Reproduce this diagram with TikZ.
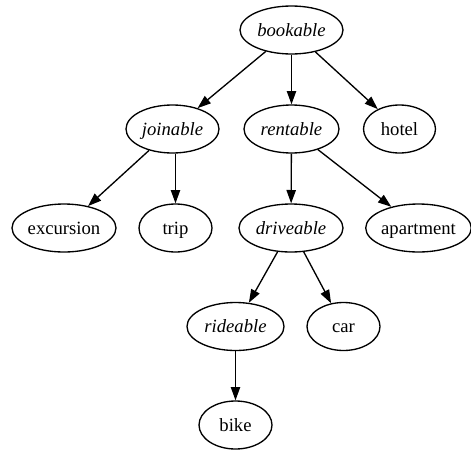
\documentclass[tikz,border=0pt]{standalone}
\usepackage{fontspec}
\setmainfont{Liberation Serif}
\usetikzlibrary{shapes.geometric,arrows.meta}
\begin{document}
\begin{tikzpicture}[x=0.75pt,y=-0.75pt,
  gnode/.style={draw,ellipse,line width=1pt,inner sep=0pt,minimum height=36pt,minimum width=#1*0.75pt,text height=10pt,text depth=1pt,font=\fontsize{14pt}{16pt}\selectfont},
  edge/.style={line width=1pt,-{Triangle[length=10pt,width=7pt]}}]
\useasboundingbox (0,0) rectangle (471,450);
\node[gnode=103] (bookable) at (291.5,30) {\textit{bookable}};
\node[gnode=93] (joinable) at (172.5,129) {\textit{joinable}};
\node[gnode=95] (rentable) at (291.5,129) {\textit{rentable}};
\node[gnode=72] (hotel) at (399.5,129) {hotel};
\node[gnode=104] (excursion) at (64,228) {excursion};
\node[gnode=73] (trip) at (175.5,228) {trip};
\node[gnode=104] (driveable) at (291,228) {\textit{driveable}};
\node[gnode=104] (apartment) at (418.5,228) {apartment};
\node[gnode=97] (rideable) at (235.5,326.5) {\textit{rideable}};
\node[gnode=73] (car) at (343.5,326.5) {car};
\node[gnode=73] (bike) at (235.5,425) {bike};
\draw[edge] (bookable) -- (joinable);
\draw[edge] (bookable) -- (rentable);
\draw[edge] (bookable) -- (hotel);
\draw[edge] (joinable) -- (excursion);
\draw[edge] (joinable.south -| trip) -- (trip);
\draw[edge] (rentable) -- (driveable);
\draw[edge] (rentable) -- (apartment);
\draw[edge] (driveable) -- (rideable);
\draw[edge] (driveable) -- (car);
\draw[edge] (rideable) -- (bike);
\end{tikzpicture}
\end{document}
